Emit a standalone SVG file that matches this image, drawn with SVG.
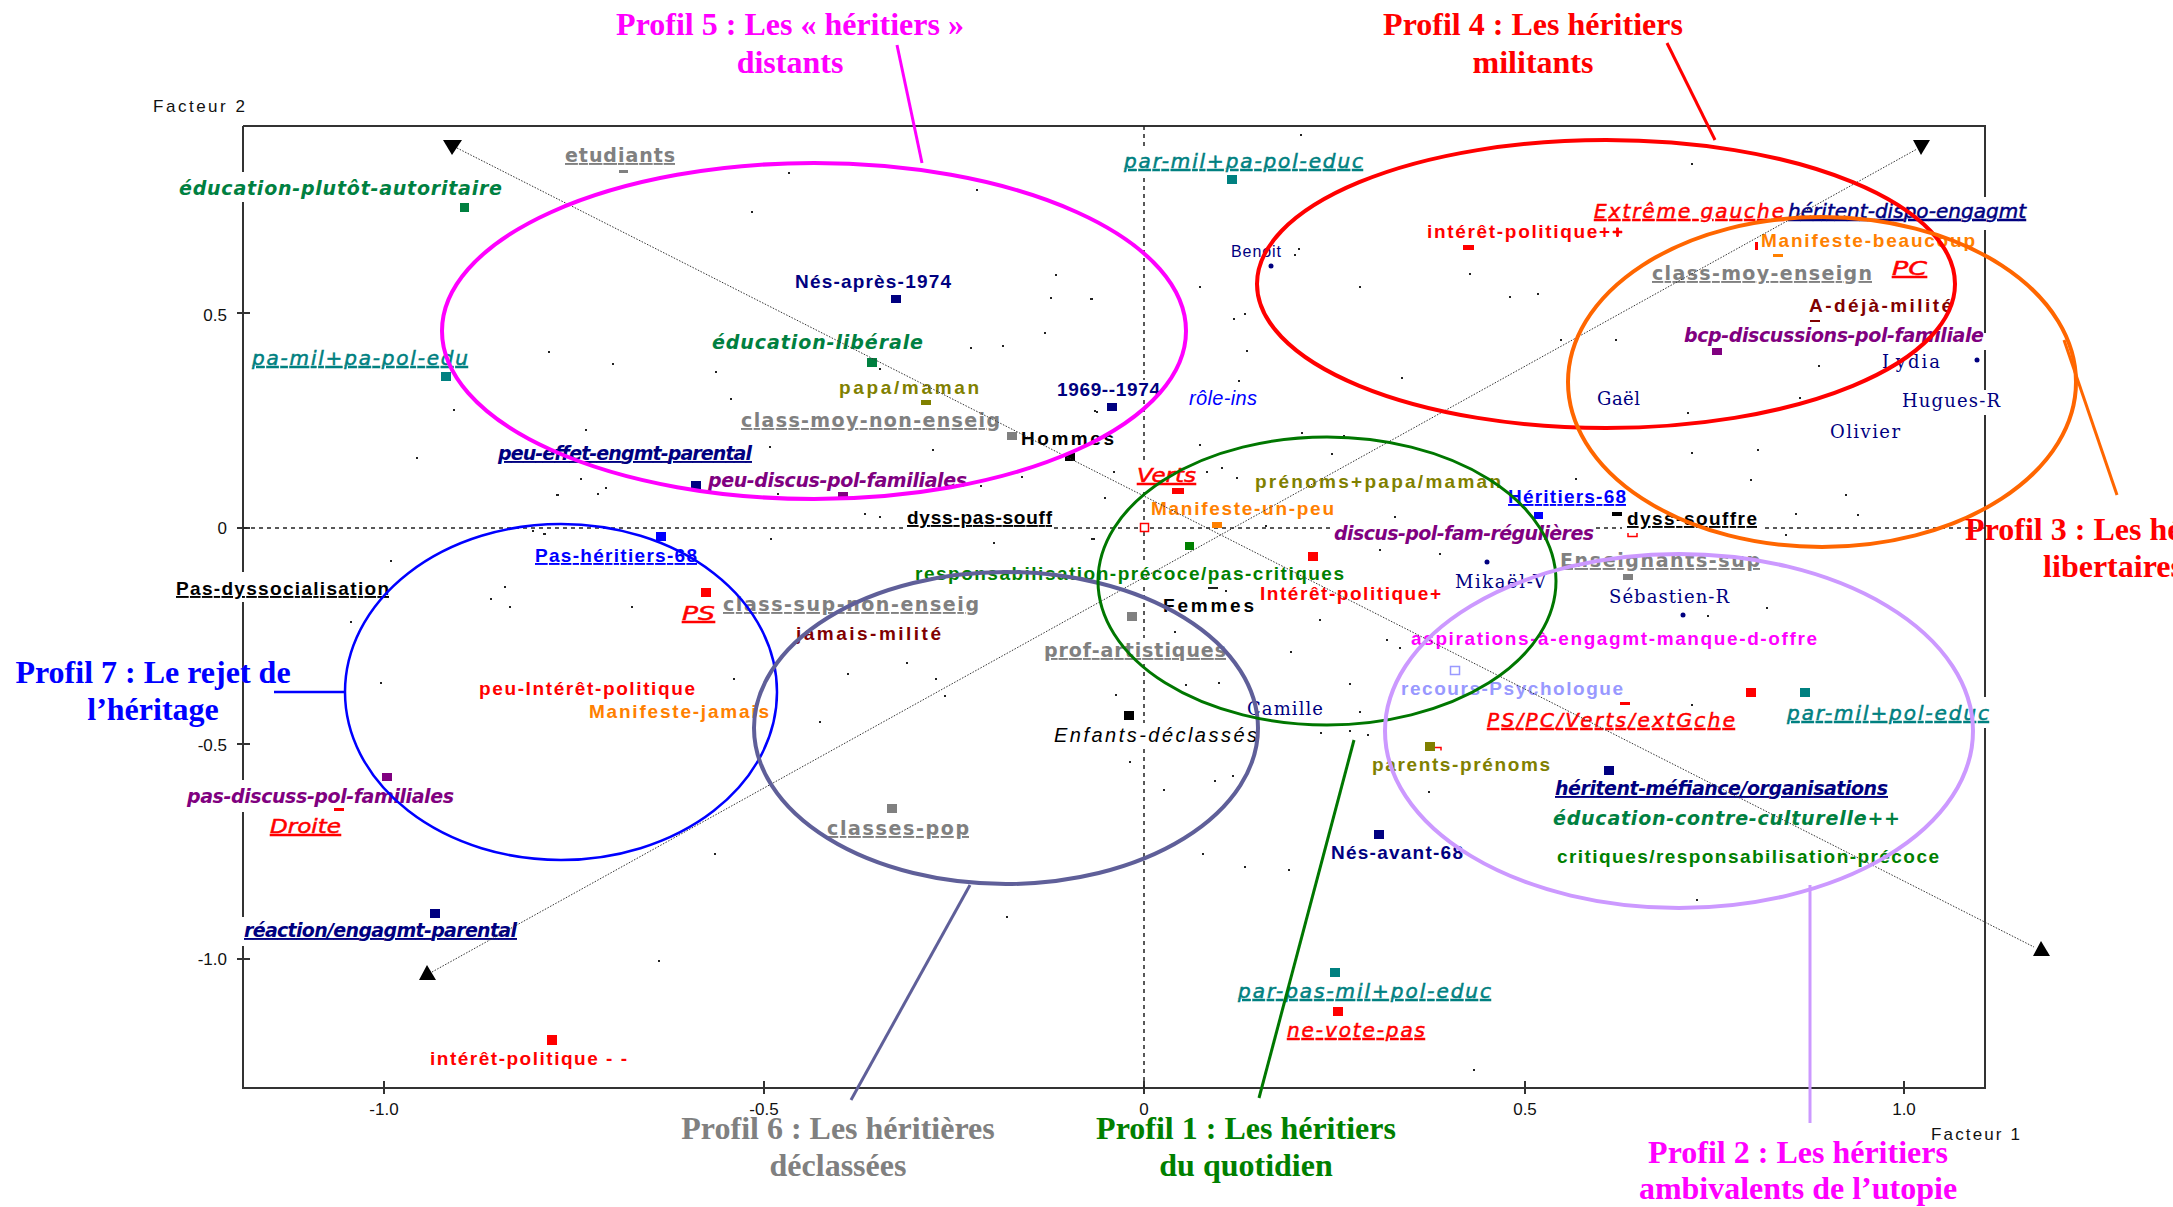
<svg xmlns="http://www.w3.org/2000/svg" width="2173" height="1207" viewBox="0 0 2173 1207">
<style>
.b{font-family:"Liberation Sans",Arial,sans-serif;font-weight:bold;font-size:19px}
.bi{font-family:"DejaVu Sans",sans-serif;font-weight:bold;font-style:oblique;font-size:19px}
.i{font-family:"DejaVu Sans",sans-serif;font-style:oblique;font-size:20px;stroke-width:0.5px}
.li{font-family:"Liberation Sans",Arial,sans-serif;font-style:italic;font-size:20px}
.g{font-family:"DejaVu Sans",sans-serif;font-weight:bold;font-size:19px;fill:#808080}
.n{font-family:"DejaVu Serif",serif;font-size:18px;fill:#000080}
.u{text-decoration:underline}
.t{font-family:"Liberation Serif","Times New Roman",serif;font-weight:bold;font-size:32px;text-anchor:middle}
.ax{font-family:"Liberation Sans",Arial,sans-serif;font-size:17px;fill:#111}
.fr{stroke:#333;stroke-width:2;fill:none}
.da{stroke:#222;stroke-width:1.5;stroke-dasharray:4 4;fill:none}
.dt{stroke:#333;stroke-width:1;stroke-dasharray:1.5 1.5;fill:none}
.el{fill:none}
</style>
<rect width="2173" height="1207" fill="#fff"/>

<g id="axes">
  <path class="fr" d="M243 126V172M243 202V572M243 602V780M243 812V917M243 946V1088H1985V728M1985 697V415M1985 390V350M1985 333V230M1985 197V126H243"/>
  <path class="fr" d="M237 313H250M237 528H250M237 744H250M237 959H250M384 1081V1094M764 1081V1094M1144 1081V1094M1525 1081V1094M1904 1081V1094"/>
  <path class="da" d="M243 528H905M1054 528H1332M1596 528H1622M1765 528H1985"/>
  <path class="da" d="M1144 126V148M1144 178V380M1144 400V463M1144 492V563M1144 587V638M1144 664V723M1144 749V1088"/>
  <text class="ax" x="153" y="112" font-size="20" textLength="92">Facteur 2</text>
  <text class="ax" x="227" y="321" text-anchor="end">0.5</text>
  <text class="ax" x="227" y="534" text-anchor="end">0</text>
  <text class="ax" x="227" y="751" text-anchor="end">-0.5</text>
  <text class="ax" x="227" y="965" text-anchor="end">-1.0</text>
  <text class="ax" x="384" y="1115" text-anchor="middle">-1.0</text>
  <text class="ax" x="764" y="1115" text-anchor="middle">-0.5</text>
  <text class="ax" x="1144" y="1115" text-anchor="middle">0</text>
  <text class="ax" x="1525" y="1115" text-anchor="middle">0.5</text>
  <text class="ax" x="1904" y="1115" text-anchor="middle">1.0</text>
  <text class="ax" x="1931" y="1140" font-size="20" textLength="89">Facteur 1</text>
</g>

<g id="dots">
  <path fill="#222" d="M453 409h2v2h-2zM788 172h2v2h-2zM976 189h2v2h-2zM751 211h2v2h-2zM1055 274h2v2h-2zM1050 297h2v2h-2zM1090 298h2v2h-2zM1044 332h2v2h-2zM970 347h2v2h-2zM1002 345h2v2h-2zM548 351h2v2h-2zM612 363h2v2h-2zM715 371h2v2h-2zM730 398h2v2h-2zM879 368h2v2h-2zM1300 134h2v2h-2zM1298 248h2v2h-2zM1294 254h2v2h-2zM1199 286h2v2h-2zM1359 286h2v2h-2zM1469 273h2v2h-2zM1509 296h2v2h-2zM1537 293h2v2h-2zM1091 298h2v2h-2zM1233 318h2v2h-2zM1244 313h2v2h-2zM1246 350h2v2h-2zM1238 380h2v2h-2zM1401 377h2v2h-2zM1560 339h2v2h-2zM1615 339h2v2h-2zM1094 410h2v2h-2zM1691 163h2v2h-2zM1818 365h2v2h-2zM1799 397h2v2h-2zM1687 412h2v2h-2zM416 457h2v2h-2zM556 494h2v2h-2zM532 530h2v2h-2zM543 533h2v2h-2zM390 560h2v2h-2zM504 586h2v2h-2zM490 598h2v2h-2zM509 606h2v2h-2zM350 621h2v2h-2zM380 682h2v2h-2zM585 429h2v2h-2zM769 446h2v2h-2zM932 449h2v2h-2zM1096 411h2v2h-2zM580 478h2v2h-2zM605 487h2v2h-2zM597 493h2v2h-2zM557 494h2v2h-2zM777 493h2v2h-2zM802 498h2v2h-2zM980 485h2v2h-2zM1021 476h2v2h-2zM864 513h2v2h-2zM879 516h2v2h-2zM770 538h2v2h-2zM993 542h2v2h-2zM1091 538h2v2h-2zM544 533h2v2h-2zM631 606h2v2h-2zM733 678h2v2h-2zM847 673h2v2h-2zM906 662h2v2h-2zM935 678h2v2h-2zM944 695h2v2h-2zM819 721h2v2h-2zM1301 432h2v2h-2zM1343 435h2v2h-2zM1199 444h2v2h-2zM1331 453h2v2h-2zM1113 471h2v2h-2zM1206 471h2v2h-2zM1221 467h2v2h-2zM1236 477h2v2h-2zM1104 497h2v2h-2zM1394 516h2v2h-2zM1575 478h2v2h-2zM1265 525h2v2h-2zM1093 538h2v2h-2zM1379 549h2v2h-2zM1439 553h2v2h-2zM1225 590h2v2h-2zM1319 619h2v2h-2zM1174 631h2v2h-2zM1290 651h2v2h-2zM1386 639h2v2h-2zM1399 647h2v2h-2zM1185 684h2v2h-2zM1218 682h2v2h-2zM1349 683h2v2h-2zM1115 694h2v2h-2zM1359 711h2v2h-2zM1320 732h2v2h-2zM1349 730h2v2h-2zM1367 734h2v2h-2zM1129 761h2v2h-2zM1214 780h2v2h-2zM1232 775h2v2h-2zM1163 789h2v2h-2zM1428 791h2v2h-2zM1691 452h2v2h-2zM1757 449h2v2h-2zM1750 479h2v2h-2zM1845 494h2v2h-2zM1795 513h2v2h-2zM1857 514h2v2h-2zM1785 534h2v2h-2zM1707 615h2v2h-2zM1766 607h2v2h-2zM1691 704h2v2h-2zM714 853h2v2h-2zM658 960h2v2h-2zM1006 916h2v2h-2zM887 804h2v2h-2zM1202 853h2v2h-2zM1244 866h2v2h-2zM1288 869h2v2h-2zM1473 1069h2v2h-2zM1696 899h2v2h-2z"/>
</g>

<g id="labels">
  <g id="n-educ-autoritaire"><text class="bi" x="179" y="195" textLength="323" fill="#008040">éducation-plutôt-autoritaire</text><rect x="460" y="203" width="9" height="9" fill="#008040"/></g>
  <g id="n-pa-mil-edu"><text class="i u" x="252" y="365" textLength="216" fill="#008080" stroke="#008080">pa-mil+pa-pol-edu</text><rect x="441" y="372" width="10" height="9" fill="#008080"/></g>
  <g id="n-etudiants"><text class="g u" x="565" y="162" textLength="110">etudiants</text><rect x="619" y="170" width="9" height="3" fill="#808080"/></g>
  <g id="n-nes-apres"><text class="b" x="795" y="288" textLength="156" fill="#000080">Nés-après-1974</text><rect x="891" y="295" width="10" height="8" fill="#000080"/></g>
  <g id="n-educ-liberale"><text class="bi" x="712" y="349" textLength="211" fill="#008040">éducation-libérale</text><rect x="867" y="358" width="10" height="9" fill="#008040"/></g>
  <g id="n-papa-maman"><text class="b" x="839" y="394" textLength="140" fill="#808000">papa/maman</text><rect x="921" y="400" width="10" height="5" fill="#808000"/></g>
  <g id="n-1969"><text class="b" x="1057" y="396" textLength="103" fill="#000080">1969--1974</text><rect x="1107" y="403" width="10" height="8" fill="#000080"/></g>
  <g id="n-class-moy-non"><text class="g u" x="741" y="427" textLength="259">class-moy-non-enseig</text><rect x="1007" y="432" width="10" height="8" fill="#808080"/></g>
  <g id="n-hommes"><text class="b" x="1021" y="445" textLength="93" fill="#000">Hommes</text><rect x="1065" y="453" width="10" height="8" fill="#000"/></g>
  <g id="n-peu-effet"><text class="bi u" x="498" y="460" textLength="254" fill="#000080">peu-effet-engmt-parental</text><rect x="691" y="481" width="10" height="8" fill="#000080"/></g>
  <g id="n-peu-discus"><text class="bi" x="708" y="487" textLength="259" fill="#800080">peu-discus-pol-familiales</text><rect x="838" y="492" width="10" height="6" fill="#800080"/></g>
  <g id="n-dyss-pas-souff"><text class="b u" x="907" y="524" textLength="145" fill="#000">dyss-pas-souff</text></g>
  <g id="n-pas-dysso"><text class="b u" x="176" y="595" textLength="213" fill="#000">Pas-dyssocialisation</text></g>
  <g id="n-pas-heritiers"><text class="b u" x="535" y="562" textLength="162" fill="#0000ff">Pas-héritiers-68</text><rect x="656" y="532" width="10" height="9" fill="#0000ff"/></g>
  <g id="n-ps"><text class="i u" x="682" y="620" textLength="33" lengthAdjust="spacingAndGlyphs" fill="#ff0000" stroke="#ff0000">PS</text><rect x="701" y="588" width="10" height="9" fill="#ff0000"/></g>
  <g id="n-class-sup-non"><text class="g u" x="723" y="611" textLength="256">class-sup-non-enseig</text></g>
  <g id="n-jamais"><text class="b" x="796" y="640" textLength="145" fill="#800000">jamais-milité</text></g>
  <g id="n-peu-interet"><text class="b" x="479" y="695" textLength="216" fill="#ff0000">peu-Intérêt-politique</text></g>
  <g id="n-manif-jamais"><text class="b" x="589" y="718" textLength="180" fill="#ff8000">Manifeste-jamais</text></g>
  <g id="n-pas-discuss"><text class="bi" x="187" y="803" textLength="267" fill="#800080">pas-discuss-pol-familiales</text><rect x="382" y="773" width="10" height="8" fill="#800080"/></g>
  <g id="n-droite"><text class="i u" x="270" y="833" textLength="71" lengthAdjust="spacingAndGlyphs" fill="#ff0000" stroke="#ff0000">Droite</text><rect x="334" y="808" width="10" height="3" fill="#ff0000"/></g>
  <g id="n-reaction"><text class="bi u" x="244" y="937" textLength="273" fill="#000080">réaction/engagmt-parental</text><rect x="430" y="909" width="10" height="9" fill="#000080"/></g>
  <g id="n-interet-moins"><text class="b" x="430" y="1065" textLength="197" fill="#ff0000">intérêt-politique - -</text><rect x="547" y="1035" width="10" height="10" fill="#ff0000"/></g>
  <g id="n-classes-pop"><text class="g u" x="827" y="835" textLength="142">classes-pop</text><rect x="887" y="804" width="10" height="9" fill="#808080"/></g>
  <g id="n-respons"><text class="b" x="915" y="580" textLength="429" fill="#008000">responsabilisation-précoce/pas-critiques</text><rect x="1185" y="542" width="9" height="8" fill="#008000"/><rect x="1208" y="587" width="10" height="2" fill="#222"/></g>
  <g id="n-prof-art"><text class="g u" x="1044" y="657" textLength="182">prof-artistiques</text><rect x="1127" y="612" width="10" height="9" fill="#808080"/></g>
  <g id="n-enfants"><text class="li" x="1054" y="742" textLength="203" fill="#000">Enfants-déclassés</text><rect x="1124" y="711" width="10" height="9" fill="#000"/></g>
  <g id="n-femmes"><text class="b" x="1163" y="612" textLength="91" fill="#000">Femmes</text></g>
  <g id="n-verts"><text class="i u" x="1137" y="482" textLength="59" lengthAdjust="spacingAndGlyphs" fill="#ff0000" stroke="#ff0000">Verts</text><rect x="1172" y="488" width="12" height="6" fill="#ff0000"/></g>
  <g id="n-prenoms-papa"><text class="b" x="1255" y="488" textLength="246" fill="#808000">prénoms+papa/maman</text></g>
  <g id="n-manif-un-peu"><text class="b" x="1151" y="515" textLength="183" fill="#ff8000">Manifeste-un-peu</text><rect x="1212" y="522" width="10" height="6" fill="#ff8000"/><rect x="1140.5" y="523.5" width="8" height="8" fill="#fff" stroke="#ff0000" stroke-width="1.5"/></g>
  <g id="n-heritiers68"><text class="b u" x="1508" y="503" textLength="118" fill="#0000ff">Héritiers-68</text><rect x="1534" y="512" width="9" height="7" fill="#0000ff"/></g>
  <g id="n-discus-reg"><text class="bi" x="1334" y="540" textLength="260" fill="#800080">discus-pol-fam-régulières</text></g>
  <g id="n-interet-plus"><text class="b" x="1260" y="600" textLength="181" fill="#ff0000">Intérêt-politique+</text><rect x="1308" y="552" width="10" height="9" fill="#ff0000"/></g>
  <g id="n-mikael"><text class="n" x="1455" y="588" textLength="91">Mikaël-V</text><circle cx="1487" cy="562" r="2.5" fill="#000080"/></g>
  <g id="n-aspirations"><text class="b" x="1411" y="645" textLength="406" fill="#ff00ff">aspirations-à-engagmt-manque-d-offre</text></g>
  <g id="n-recours"><text class="b" x="1401" y="695" textLength="222" fill="#9999ff">recours-Psychologue</text><rect x="1450.5" y="666.5" width="9" height="8" fill="#fff" stroke="#9999ff" stroke-width="1.5"/><rect x="1620" y="702" width="10" height="3" fill="#ff0000"/></g>
  <g id="n-ps-pc"><text class="i u" x="1487" y="727" textLength="248" fill="#ff0000" stroke="#ff0000">PS/PC/Verts/extGche</text><rect x="1746" y="688" width="10" height="9" fill="#ff0000"/></g>
  <g id="n-camille"><text class="n" x="1247" y="715" textLength="76">Camille</text></g>
  <g id="n-parents-prenoms"><text class="b" x="1372" y="771" textLength="178" fill="#808000">parents-prénoms</text><rect x="1425" y="742" width="10" height="9" fill="#808000"/><path d="M1435 747.5h6v3" fill="none" stroke="#ff0000" stroke-width="1.5"/></g>
  <g id="n-heritent-mef"><text class="bi u" x="1555" y="795" textLength="333" fill="#000080">héritent-méfiance/organisations</text><rect x="1604" y="766" width="10" height="9" fill="#000080"/></g>
  <g id="n-educ-contre"><text class="bi" x="1553" y="825" textLength="347" fill="#008040">éducation-contre-culturelle++</text></g>
  <g id="n-critiques"><text class="b" x="1557" y="863" textLength="382" fill="#008000">critiques/responsabilisation-précoce</text></g>
  <g id="n-nes-avant"><text class="b" x="1331" y="859" textLength="132" fill="#000080">Nés-avant-68</text><rect x="1374" y="830" width="10" height="9" fill="#000080"/></g>
  <g id="n-par-pas-mil"><text class="i u" x="1238" y="998" textLength="253" fill="#008080" stroke="#008080">par-pas-mil+pol-educ</text><rect x="1330" y="968" width="10" height="9" fill="#008080"/></g>
  <g id="n-ne-vote"><text class="i u" x="1287" y="1037" textLength="138" fill="#ff0000" stroke="#ff0000">ne-vote-pas</text><rect x="1333" y="1007" width="10" height="9" fill="#ff0000"/></g>
  <g id="n-par-mil-pa"><text class="i u" x="1124" y="168" textLength="239" fill="#008080" stroke="#008080">par-mil+pa-pol-educ</text><rect x="1227" y="175" width="10" height="9" fill="#008080"/></g>
  <g id="n-benoit"><text x="1231" y="257" font-family="Liberation Sans, Arial, sans-serif" font-size="16" textLength="50" fill="#000080">Benoit</text><circle cx="1271" cy="266" r="2.5" fill="#000080"/></g>
  <g id="n-interet-pp"><text class="b" x="1427" y="238" textLength="196" fill="#ff0000">intérêt-politique++</text><rect x="1463" y="245" width="11" height="5" fill="#ff0000"/></g>
  <g id="n-extreme"><text class="i u" x="1594" y="218" textLength="190" fill="#ff0000" stroke="#ff0000">Extrême gauche</text><path d="M1613 232h9M1617.5 228v8" stroke="#ff0000" stroke-width="2.5"/></g>
  <g id="n-heritent-dispo"><text class="i u" x="1788" y="218" textLength="238" fill="#000080" stroke="#000080">héritent-dispo-engagmt</text></g>
  <g id="n-role"><text class="li" x="1189" y="405" textLength="68" fill="#0000ff">rôle-ins</text></g>
  <g id="n-gael"><text class="n" x="1597" y="405" textLength="43">Gaël</text></g>
  <g id="n-manif-beau"><text class="b" x="1761" y="247" textLength="214" fill="#ff8000">Manifeste-beaucoup</text><rect x="1773" y="254" width="10" height="3" fill="#ff8000"/><rect x="1755" y="242" width="3" height="8" fill="#ff0000"/></g>
  <g id="n-class-moy-ens"><text class="g u" x="1652" y="280" textLength="220">class-moy-enseign</text></g>
  <g id="n-pc"><text class="i u" x="1892" y="275" textLength="35" lengthAdjust="spacingAndGlyphs" fill="#ff0000" stroke="#ff0000">PC</text></g>
  <g id="n-a-deja"><text class="b" x="1809" y="312" textLength="143" fill="#800000">A-déjà-milité</text><rect x="1810" y="320" width="10" height="2" fill="#800000"/></g>
  <g id="n-bcp"><text class="bi" x="1684" y="342" textLength="300" fill="#800080">bcp-discussions-pol-familiale</text><rect x="1712" y="348" width="10" height="7" fill="#800080"/></g>
  <g id="n-lydia"><text class="n" x="1882" y="368" textLength="58">Lydia</text><circle cx="1977" cy="360" r="2.5" fill="#000080"/></g>
  <g id="n-hugues"><text class="n" x="1902" y="407" textLength="98">Hugues-R</text></g>
  <g id="n-olivier"><text class="n" x="1830" y="438" textLength="70">Olivier</text></g>
  <g id="n-dyss-souffre"><text class="b u" x="1627" y="525" textLength="130" fill="#000">dyss-souffre</text><rect x="1612" y="512" width="10" height="4" fill="#000"/><path d="M1628 533v3.5h9V533" fill="none" stroke="#ff0000" stroke-width="1.5"/></g>
  <g id="n-enseignants"><text class="g u" x="1560" y="567" textLength="200">Enseignants-sup</text><rect x="1623" y="574" width="10" height="6" fill="#808080"/></g>
  <g id="n-sebastien"><text class="n" x="1609" y="603" textLength="120">Sébastien-R</text><circle cx="1683" cy="615" r="2.5" fill="#000080"/></g>
  <g id="n-par-mil-pol"><text class="i u" x="1787" y="720" textLength="202" fill="#008080" stroke="#008080">par-mil+pol-educ</text><rect x="1800" y="688" width="10" height="9" fill="#008080"/></g>
</g>

<g id="connectors">
  <path class="dt" d="M457 148L2034 947"/>
  <path class="dt" d="M432 972L1917 149"/>
  <polygon points="443,140 462,140 452,155" fill="#000"/>
  <polygon points="2033,956 2050,956 2041,941" fill="#000"/>
  <polygon points="419,980 436,980 427,965" fill="#000"/>
  <polygon points="1913,140 1930,140 1921,155" fill="#000"/>
  <path d="M897 45L922 163" stroke="#ff00ff" stroke-width="3"/>
  <path d="M1667 43L1715 140" stroke="#ff0000" stroke-width="3"/>
  <path d="M2064 340L2117 495" stroke="#ff6600" stroke-width="3"/>
  <path d="M274 692H346" stroke="#0000ff" stroke-width="2.5"/>
  <path d="M970 885L851 1100" stroke="#5f5f99" stroke-width="3"/>
  <path d="M1354 740L1259 1098" stroke="#007700" stroke-width="3"/>
  <path d="M1810 885V1123" stroke="#cc99ff" stroke-width="3"/>
</g>

<g id="profil-5"><ellipse class="el" cx="814" cy="331" rx="372" ry="168" stroke="#ff00ff" stroke-width="4"/>
  <text class="t" x="790" y="35" fill="#ff00ff">Profil 5 : Les « héritiers »</text><text class="t" x="790" y="73" fill="#ff00ff">distants</text></g>
<g id="profil-4"><ellipse class="el" cx="1606" cy="284" rx="349" ry="144" stroke="#ff0000" stroke-width="4"/>
  <text class="t" x="1533" y="35" fill="#ff0000">Profil 4 : Les héritiers</text><text class="t" x="1533" y="73" fill="#ff0000">militants</text></g>
<g id="profil-3"><ellipse class="el" cx="1822" cy="382" rx="254" ry="165" stroke="#ff6600" stroke-width="4"/>
  <text class="t" x="2115" y="540" fill="#ff0000">Profil 3 : Les héritiers</text><text class="t" x="2113" y="577" fill="#ff0000">libertaires</text></g>
<g id="profil-7"><ellipse class="el" cx="561" cy="692" rx="216" ry="168" stroke="#0000ff" stroke-width="2.5"/>
  <text class="t" x="153" y="683" fill="#0000ff">Profil 7 : Le rejet de</text><text class="t" x="153" y="720" fill="#0000ff">l’héritage</text></g>
<g id="profil-6"><ellipse class="el" cx="1006" cy="728" rx="252" ry="156" stroke="#5f5f99" stroke-width="4"/>
  <text class="t" x="838" y="1139" fill="#808080">Profil 6 : Les héritières</text><text class="t" x="838" y="1176" fill="#808080">déclassées</text></g>
<g id="profil-1"><ellipse class="el" cx="1327" cy="581" rx="229" ry="144" stroke="#007700" stroke-width="3"/>
  <text class="t" x="1246" y="1139" fill="#008000">Profil 1 : Les héritiers</text><text class="t" x="1246" y="1176" fill="#008000">du quotidien</text></g>
<g id="profil-2"><ellipse class="el" cx="1679" cy="731" rx="294" ry="177" stroke="#cc99ff" stroke-width="4"/>
  <text class="t" x="1798" y="1163" fill="#ff00ff">Profil 2 : Les héritiers</text><text class="t" x="1798" y="1199" fill="#ff00ff">ambivalents de l’utopie</text></g>
</svg>
